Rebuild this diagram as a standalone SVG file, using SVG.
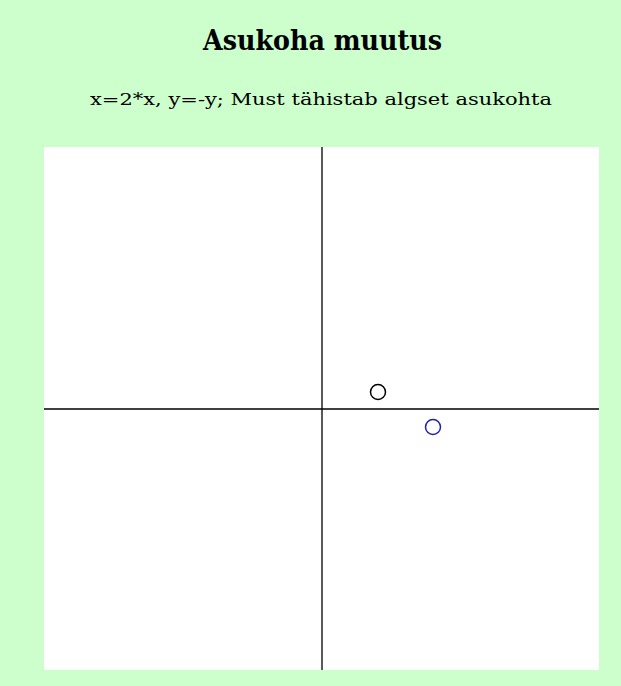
<svg xmlns="http://www.w3.org/2000/svg" width="621" height="686" viewBox="0 0 621 686">
<style>
text{font-family:"DejaVu Serif","Liberation Serif",serif;fill:#000}
.axis{stroke:#000;stroke-width:1.3}
.pt{fill:none;stroke-width:1.5}
</style>
<rect width="621" height="686" fill="#ccffcc"/>
<text x="203" y="50" font-size="27" font-weight="bold" textLength="239" lengthAdjust="spacingAndGlyphs">Asukoha muutus</text>
<text x="90" y="105" font-size="17.5" textLength="462" lengthAdjust="spacingAndGlyphs">x=2*x, y=-y; Must tähistab algset asukohta</text>
<rect x="44" y="147" width="555" height="523" fill="#fff"/>
<g id="axes">
<line class="axis" x1="322" y1="147" x2="322" y2="670"/>
<line class="axis" x1="44" y1="409" x2="599" y2="409"/>
</g>
<g id="original"><circle class="pt" cx="378" cy="392" r="7.5" stroke="#000"/></g>
<g id="moved"><circle class="pt" cx="433" cy="427" r="7.5" stroke="#2020b0"/></g>
</svg>
